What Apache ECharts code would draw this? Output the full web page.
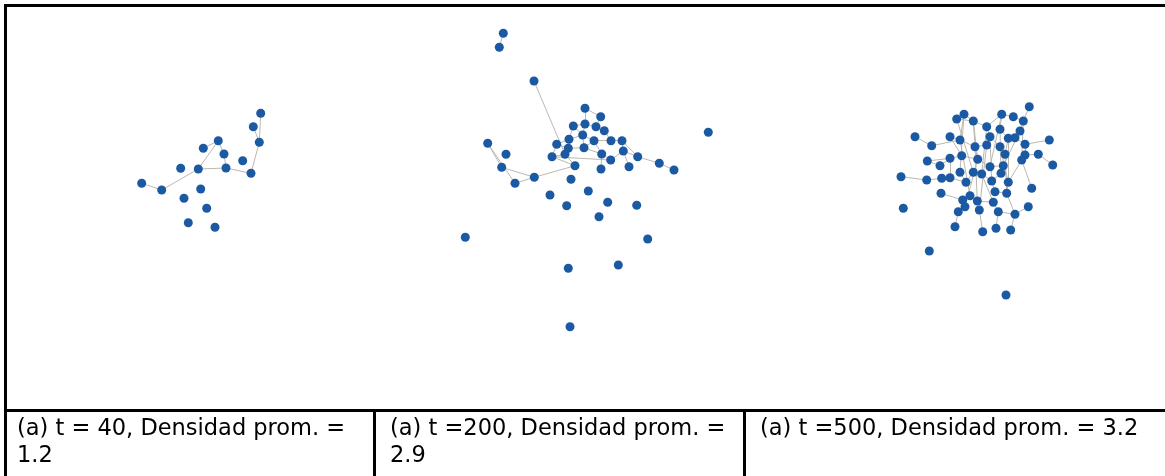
<!DOCTYPE html>
<html>
<head>
<meta charset="utf-8">
<script src="https://cdn.jsdelivr.net/npm/echarts@6/dist/echarts.min.js"></script>
<style>
  html, body { margin: 0; padding: 0; background: #fff; }
  #main { width: 1165px; height: 476px; }
</style>
</head>
<body>
<div id="main"></div>
<script>
// node positions (x, y in picture units)
var nodes40 = [
  [260.7, 113.3], [253.3, 126.7], [259.3, 142.3], [218.3, 140.7], [203.3, 148.3],
  [224, 154], [242.7, 160.7], [180.7, 168.3], [198.3, 169], [226, 168],
  [251, 173.3], [141.7, 183.3], [161.7, 190], [200.7, 189], [184, 198.3],
  [206.7, 208.3], [188.3, 222.7], [215, 227.3]
];
var links40 = [[0, 2], [1, 2], [2, 10], [10, 9], [9, 8], [8, 3], [3, 5], [5, 9],
  [8, 12], [12, 11], [3, 4]];

var nodes200 = [
  [503.3, 33.3], [499.3, 47.3], [534, 81], [585, 108.3], [600.7, 116.7],
  [573.3, 126], [585, 124], [596, 126.7], [604.3, 130.7], [582.7, 135],
  [708.3, 132.3], [487.7, 143.3], [569, 139.3], [594, 140.7], [611, 140.7],
  [622, 140.7], [556.7, 144.3], [568.3, 148.3], [584, 147.7], [623.3, 151],
  [506, 154.3], [565, 154.3], [552, 156.7], [601.7, 154], [610.7, 160],
  [637.7, 156.7], [575, 165.7], [501.7, 167.3], [601, 169], [629, 166.7],
  [659.3, 163.3], [674, 170], [534.3, 177.3], [571, 179.3], [515, 183.3],
  [550, 195], [588.3, 191], [566.7, 205.7], [607.7, 202.3], [636.7, 205.3],
  [599, 216.7], [465.3, 237.3], [647.7, 239], [568.3, 268.3], [618.3, 265],
  [570, 326.7]
];
var links200 = [[0, 1], [2, 21], [11, 27], [11, 34], [27, 32], [34, 32], [32, 26],
  [3, 6], [3, 4], [4, 7], [6, 7], [6, 9], [7, 8], [8, 14], [5, 12], [5, 6],
  [9, 12], [9, 13], [12, 16], [12, 17], [13, 14], [14, 15], [15, 19], [16, 22],
  [17, 21], [17, 18], [18, 13], [18, 23], [22, 21], [21, 26], [23, 24], [24, 19],
  [19, 25], [25, 30], [30, 31], [23, 28], [26, 22], [13, 23], [16, 17], [9, 18],
  [5, 9], [22, 24], [15, 25], [29, 19]];

var nodes500 = [
  [1029.3, 106.7], [964, 114.3], [956.7, 119], [1001.7, 114.3], [1013.3, 116.7],
  [973.3, 121], [1023.3, 121], [986.7, 126.7], [1000, 129.3], [1020, 131],
  [915, 136.7], [950, 136.7], [960, 140], [990, 136.7], [1008.3, 138.3],
  [1015, 137.7], [1049.3, 140], [931.7, 145.7], [975, 146.7], [986.7, 145],
  [1000, 146.7], [1025, 144.3], [1005, 154.3], [1038.3, 154.3], [950, 158.3],
  [961.7, 155.7], [977.7, 159.3], [1025, 155], [1021.7, 160], [927.3, 161],
  [940, 165.7], [1052.7, 165], [990, 166.7], [1003.3, 165.7], [973.3, 172.3],
  [981.7, 174], [960, 172.3], [1001, 173.3], [901, 176.7], [926.7, 180],
  [941.7, 178.3], [950, 177.7], [966, 182.3], [991.7, 181], [1008.3, 182.3],
  [1031.7, 188.3], [941, 193.3], [970, 195.7], [995, 191.7], [1006.7, 193.3],
  [962.7, 200], [977.3, 201], [993.3, 202.3], [903.3, 208.3], [965, 206.7],
  [958.3, 211.7], [979.3, 210], [998.3, 211.7], [1028.3, 206.7], [1015, 214.3],
  [955, 226.7], [982.7, 231.7], [996, 228.3], [1010.7, 230], [929.3, 251],
  [1006, 295]
];
var links500 = [[0, 6], [6, 4], [4, 3], [3, 7], [1, 5], [2, 5], [5, 7], [7, 13],
  [1, 12], [5, 18], [3, 8], [8, 14], [9, 15], [9, 6], [14, 15], [15, 21], [21, 16],
  [21, 27], [27, 23], [23, 31], [10, 17], [17, 12], [11, 12], [12, 18], [18, 19],
  [19, 13], [13, 20], [20, 22], [22, 14], [24, 25], [25, 26], [26, 18], [29, 30],
  [30, 24], [24, 41], [38, 39], [39, 40], [40, 41], [41, 42], [42, 34], [34, 35],
  [35, 43], [43, 37], [37, 33], [33, 32], [32, 26], [44, 49], [44, 28], [28, 27],
  [45, 28], [43, 48], [48, 49], [49, 59], [46, 50], [47, 50], [47, 51], [51, 52],
  [52, 57], [57, 59], [54, 55], [55, 60], [56, 61], [57, 62], [59, 63], [58, 59],
  [50, 54], [36, 42], [5, 26], [7, 35], [2, 34], [8, 37], [13, 43], [20, 44],
  [1, 36], [3, 32], [9, 33], [12, 47], [18, 51], [22, 49], [14, 44], [6, 28],
  [19, 56], [26, 54], [35, 52], [11, 25], [29, 24]];

var captions = [
  '(a) t = 40, Densidad prom. = 1.2',
  '(a) t =200, Densidad prom. = 2.9',
  '(a) t =500, Densidad prom. = 3.2'
];

var nodeColor = '#1b5aa2';
var edgeColor = '#bdb7ae';

function graphSeries(nodes, links) {
  return {
    type: 'graph',
    coordinateSystem: 'cartesian2d',
    symbolSize: 9,
    data: nodes,
    links: links.map(function (l) { return { source: l[0], target: l[1] }; }),
    itemStyle: { color: nodeColor },
    lineStyle: { color: edgeColor, width: 1, opacity: 1 },
    emphasis: { disabled: true },
    animation: false,
    z: 2
  };
}

var captionLeft = [17, 390, 760];
var captionWidth = [352, 352, 400];

var myChart = echarts.init(document.getElementById('main'));
var option = {
  animation: false,
  grid: { left: 0, right: 0, top: 0, bottom: 0 },
  xAxis: { type: 'value', min: 0, max: 1165, show: false },
  yAxis: { type: 'value', min: 0, max: 476, inverse: true, show: false },
  title: captions.map(function (c, i) {
    return {
      text: c,
      left: captionLeft[i],
      top: 416,
      padding: 0,
      textStyle: {
        fontFamily: 'DejaVu Sans',
        fontSize: 22.5,
        fontWeight: 'normal',
        color: '#000',
        lineHeight: 27,
        width: captionWidth[i],
        overflow: 'break'
      }
    };
  }),
  graphic: [
    { type: 'line', shape: { x1: 4, y1: 5.5, x2: 1165, y2: 5.5 }, style: { stroke: '#000', lineWidth: 3 } },
    { type: 'line', shape: { x1: 5.5, y1: 4, x2: 5.5, y2: 476 }, style: { stroke: '#000', lineWidth: 3 } },
    { type: 'line', shape: { x1: 4, y1: 410.5, x2: 1165, y2: 410.5 }, style: { stroke: '#000', lineWidth: 3 } },
    { type: 'line', shape: { x1: 374.5, y1: 410, x2: 374.5, y2: 476 }, style: { stroke: '#000', lineWidth: 3 } },
    { type: 'line', shape: { x1: 744.5, y1: 410, x2: 744.5, y2: 476 }, style: { stroke: '#000', lineWidth: 3 } }
  ],
  series: [
    graphSeries(nodes40, links40),
    graphSeries(nodes200, links200),
    graphSeries(nodes500, links500)
  ]
};
myChart.setOption(option);
window.addEventListener('resize', function () {
  myChart.resize();
});
</script>
</body>
</html>
